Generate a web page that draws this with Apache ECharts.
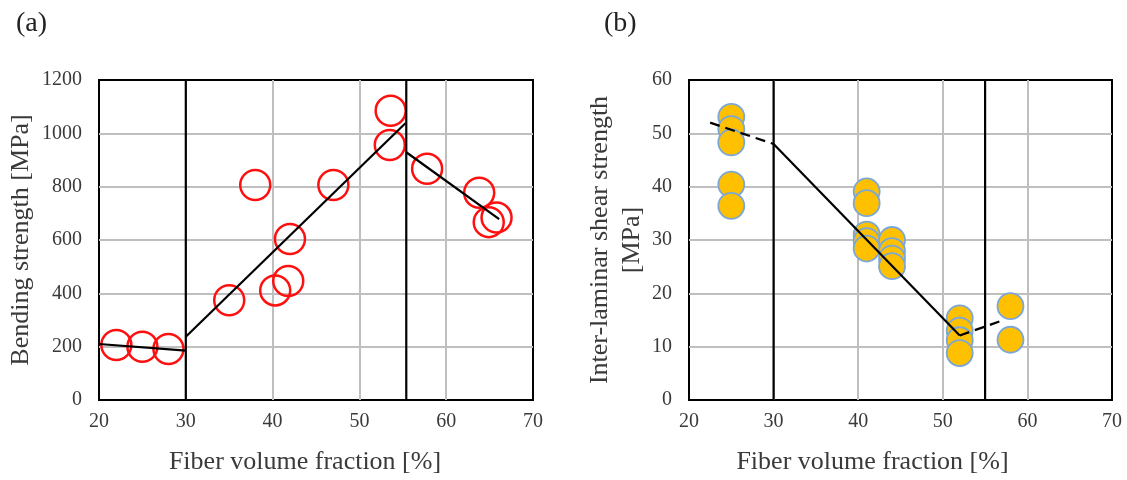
<!DOCTYPE html>
<html>
<head>
<meta charset="utf-8">
<script src="https://cdn.jsdelivr.net/npm/echarts@6/dist/echarts.min.js"></script>
<style>
  html, body { margin: 0; padding: 0; background: #fff; }
  #chart { width: 1127px; height: 480px; }
</style>
</head>
<body>
<div id="chart"></div>
<script>
// (a) bending strength vs fiber volume fraction
const fvfA  = [22, 25, 28, 35, 38, 40.3, 41.8, 42, 47, 53.6, 53.5, 57.8, 63.8, 64.9, 65.8];
const bendA = [206, 200, 191, 374, 806, 411, 446, 604, 806, 1085, 956, 867, 777, 667, 684];
// fitted segments of (a)
const fitA1 = [[20, 210], [30, 185]];
const fitA2 = [[30, 237], [55.3, 1038]];
const fitA3 = [[55.4, 929], [66.1, 678]];
const borderA = [30, 55.4]; // vertical region borders

// (b) inter-laminar shear strength vs fiber volume fraction
const fvfB  = [25, 25, 25, 25, 25, 41, 41, 41, 41, 41, 44, 44, 44, 44, 52, 52, 52, 52, 58, 58];
const ilssB = [53.1, 50.8, 48.3, 40.4, 36.4, 39.1, 36.9, 31, 29.8, 28.4, 30, 27.9, 26.5, 25.1, 15.3, 13, 11.2, 8.8, 17.6, 11.3];
const dashB1 = [[22.5, 52], [30, 48]];
const fitB   = [[30, 48], [52, 12.1]];
const dashB2 = [[52, 12.1], [57.2, 15]];
const borderB = [30, 55];

const xTicks = { min: 20, max: 70, interval: 10 };

const serif = "'Liberation Serif', 'Times New Roman', serif";
const textCol = '#3a3a3a';

function zip(xs, ys) { return xs.map((x, i) => [x, ys[i]]); }

function xAxisFor(grid, shift) {
  return {
    type: 'value', gridIndex: grid,
    min: xTicks.min, max: xTicks.max, interval: xTicks.interval,
    name: 'Fiber volume fraction [%]',
    nameLocation: 'middle', nameGap: 49,
    nameTextStyle: { fontFamily: serif, fontSize: 26, color: textCol, padding: [0, shift, 0, 0] },
    axisLine: { show: false },
    axisTick: { show: false },
    axisLabel: { fontFamily: serif, fontSize: 20, color: textCol, margin: 12, formatter: v => String(v) },
    splitLine: { show: true, showMinLine: false, showMaxLine: false, lineStyle: { color: '#bfbfbf', width: 2 } }
  };
}

function yAxisFor(grid, max, interval, name, gap) {
  return {
    type: 'value', gridIndex: grid,
    min: 0, max: max, interval: interval,
    name: name,
    nameLocation: 'middle', nameGap: gap,
    nameTextStyle: { fontFamily: serif, fontSize: 26, color: textCol, lineHeight: 32 },
    axisLine: { show: false },
    axisTick: { show: false },
    axisLabel: { fontFamily: serif, fontSize: 20, color: textCol, margin: 17, formatter: v => String(v) },
    splitLine: { show: true, showMinLine: false, showMaxLine: false, lineStyle: { color: '#bfbfbf', width: 2 } }
  };
}

// black line helper
function seg(grid, data, dashed) {
  return {
    type: 'line', xAxisIndex: grid, yAxisIndex: grid,
    data: data, symbol: 'none', z: 4, silent: true,
    lineStyle: { color: '#000', width: 2.2, type: dashed ? [10, 6] : 'solid' }
  };
}

const option = {
  animation: false,
  backgroundColor: '#fff',
  grid: [
    { left: 99, top: 80, width: 434, height: 322, show: true, borderColor: '#000', borderWidth: 2, backgroundColor: 'transparent' },
    { left: 689, top: 80, width: 423, height: 321, show: true, borderColor: '#000', borderWidth: 2, backgroundColor: 'transparent' }
  ],
  xAxis: [xAxisFor(0, 22), xAxisFor(1, 56)],
  yAxis: [
    yAxisFor(0, 1200, 200, 'Bending strength [MPa]', 62),
    yAxisFor(1, 60, 10, 'Inter-laminar shear strength\n[MPa]', 41)
  ],
  graphic: [
    { type: 'text', left: 16, top: 10, style: { text: '(a)', font: '28px ' + serif, fill: '#222' } },
    { type: 'text', left: 604, top: 10, style: { text: '(b)', font: '28px ' + serif, fill: '#222' } }
  ],
  series: [
    {
      type: 'scatter', xAxisIndex: 0, yAxisIndex: 0,
      data: zip(fvfA, bendA), symbolSize: 30,
      itemStyle: { color: 'rgba(255,255,255,0)', borderColor: '#ff1010', borderWidth: 2.5, opacity: 1 }
    },
    seg(0, fitA1), seg(0, fitA2), seg(0, fitA3),
    seg(0, [[borderA[0], 0], [borderA[0], 1200]]),
    seg(0, [[borderA[1], 0], [borderA[1], 1200]]),
    {
      type: 'scatter', xAxisIndex: 1, yAxisIndex: 1,
      data: zip(fvfB, ilssB), symbolSize: 26,
      itemStyle: { color: '#ffc000', borderColor: '#7ba7d7', borderWidth: 1.8, opacity: 1 }
    },
    seg(1, dashB1, true), seg(1, fitB), seg(1, dashB2, true),
    seg(1, [[borderB[0], 0], [borderB[0], 60]]),
    seg(1, [[borderB[1], 0], [borderB[1], 60]])
  ]
};

var chart = echarts.init(document.getElementById('chart'));
chart.setOption(option);
window.addEventListener('resize', function () { chart.resize(); });
</script>
</body>
</html>
